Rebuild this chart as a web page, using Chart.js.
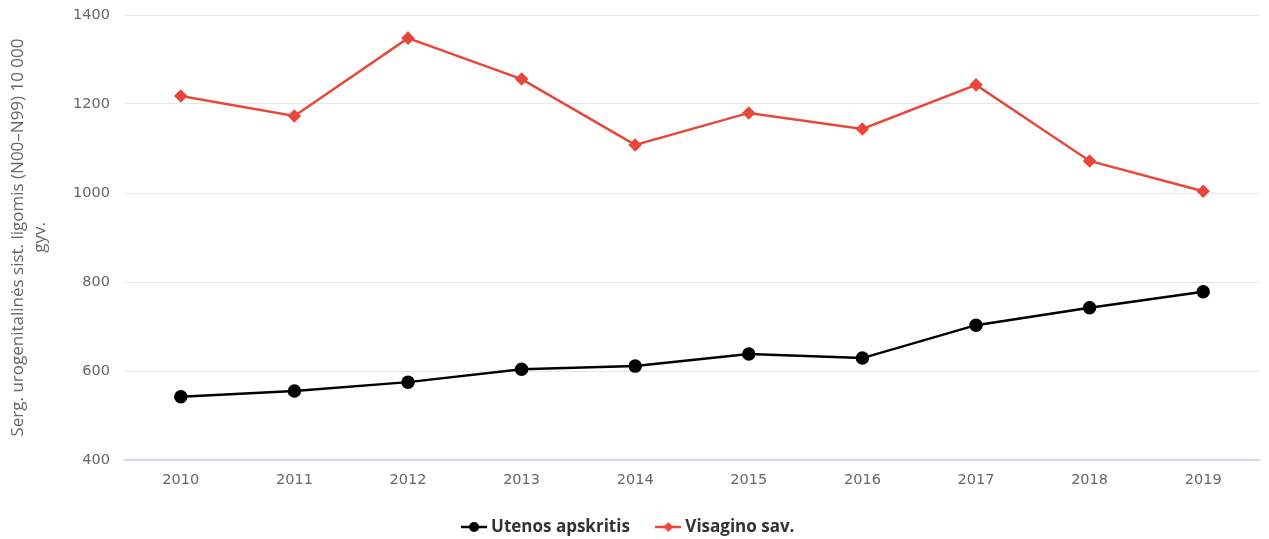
<!DOCTYPE html>
<html>
<head>
<meta charset="utf-8">
<script src="https://cdn.jsdelivr.net/npm/chart.js@4/dist/chart.umd.min.js"></script>
<style>
  html, body { margin: 0; padding: 0; background: #fff; }
  #wrap { width: 1269px; height: 539px; position: relative; }
</style>
</head>
<body>
<div id="wrap"><canvas id="lineChart" width="1269" height="539"></canvas></div>
<script>
const years = ['2010','2011','2012','2013','2014','2015','2016','2017','2018','2019'];
const utenos = [542, 555, 575, 604, 611, 638, 629, 703, 742, 778];
const visagino = [1218, 1173, 1348, 1256, 1108, 1180, 1144, 1243, 1072, 1004];
const yTicks = [400, 600, 800, 1000, 1200, 1400];
const yTitle = ['Serg. urogenitalinės sist. ligomis (N00–N99) 10 000', 'gyv.'];

const BLACK = '#000000';
const RED = '#e8473a';
const FONT = '"Open Sans", "DejaVu Sans", sans-serif';
const TICK_FONT = '"DejaVu Sans", sans-serif';

// small line + marker icon for legend entries
function legendIcon(color, style) {
  const c = document.createElement('canvas');
  c.width = 26; c.height = 12;
  const g = c.getContext('2d');
  g.strokeStyle = color; g.fillStyle = color; g.lineWidth = 2.5;
  g.beginPath(); g.moveTo(0, 6); g.lineTo(26, 6); g.stroke();
  g.beginPath();
  if (style === 'circle') {
    g.arc(13, 6, 5, 0, Math.PI * 2);
  } else {
    g.moveTo(13, 1); g.lineTo(18, 6); g.lineTo(13, 11); g.lineTo(8, 6); g.closePath();
  }
  g.fill();
  return c;
}

const ctx = document.getElementById('lineChart');
new Chart(ctx, {
  type: 'line',
  data: {
    labels: years,
    datasets: [
      {label: 'Utenos apskritis', data: utenos, borderColor: BLACK, backgroundColor: BLACK,
       borderWidth: 2.5, pointStyle: 'circle', pointRadius: 5.5, pointHoverRadius: 6, tension: 0,
       icon: legendIcon(BLACK, 'circle')},
      {label: 'Visagino sav.', data: visagino, borderColor: RED, backgroundColor: RED,
       borderWidth: 2.5, pointStyle: 'rectRot', pointRadius: 5, pointHoverRadius: 6, tension: 0,
       icon: legendIcon(RED, 'diamond')}
    ]
  },
  options: {
    responsive: false,
    animation: false,
    devicePixelRatio: 1,
    layout: {padding: {top: 15, right: 9, left: 0, bottom: 0}},
    plugins: {
      legend: {
        position: 'bottom',
        maxHeight: 50.5,
        labels: {
          usePointStyle: true,
          padding: 30,
          color: '#333333',
          font: {family: FONT, size: 17, weight: 'bold'},
          generateLabels: chart => chart.data.datasets.map((ds, i) => ({
            text: ds.label, pointStyle: ds.icon, fontColor: '#333333',
            hidden: !chart.isDatasetVisible(i), datasetIndex: i, lineWidth: 0
          }))
        }
      },
      tooltip: {enabled: false}
    },
    scales: {
      x: {
        offset: true,
        grid: {display: false, drawTicks: false},
        border: {color: '#ccd6eb', width: 1.5},
        ticks: {color: '#666666', padding: 12, font: {family: TICK_FONT, size: 14.5}},
        afterFit: s => { s.height = 28.5; }
      },
      y: {
        min: 400, max: 1400,
        afterBuildTicks: s => { s.ticks = yTicks.map(v => ({value: v})); },
        grid: {color: '#e6e6e6', drawTicks: false},
        border: {display: false},
        ticks: {color: '#666666', padding: 14, font: {family: TICK_FONT, size: 14.5},
                callback: v => String(v)},
        title: {display: true, text: yTitle, color: '#666666', padding: {top: 7, bottom: 4},
                font: {family: FONT, size: 17, lineHeight: 1.3}},
        afterFit: s => { s.width = 124; s.paddingTop = 0; s.paddingBottom = 0; }
      }
    }
  }
});
</script>
</body>
</html>
